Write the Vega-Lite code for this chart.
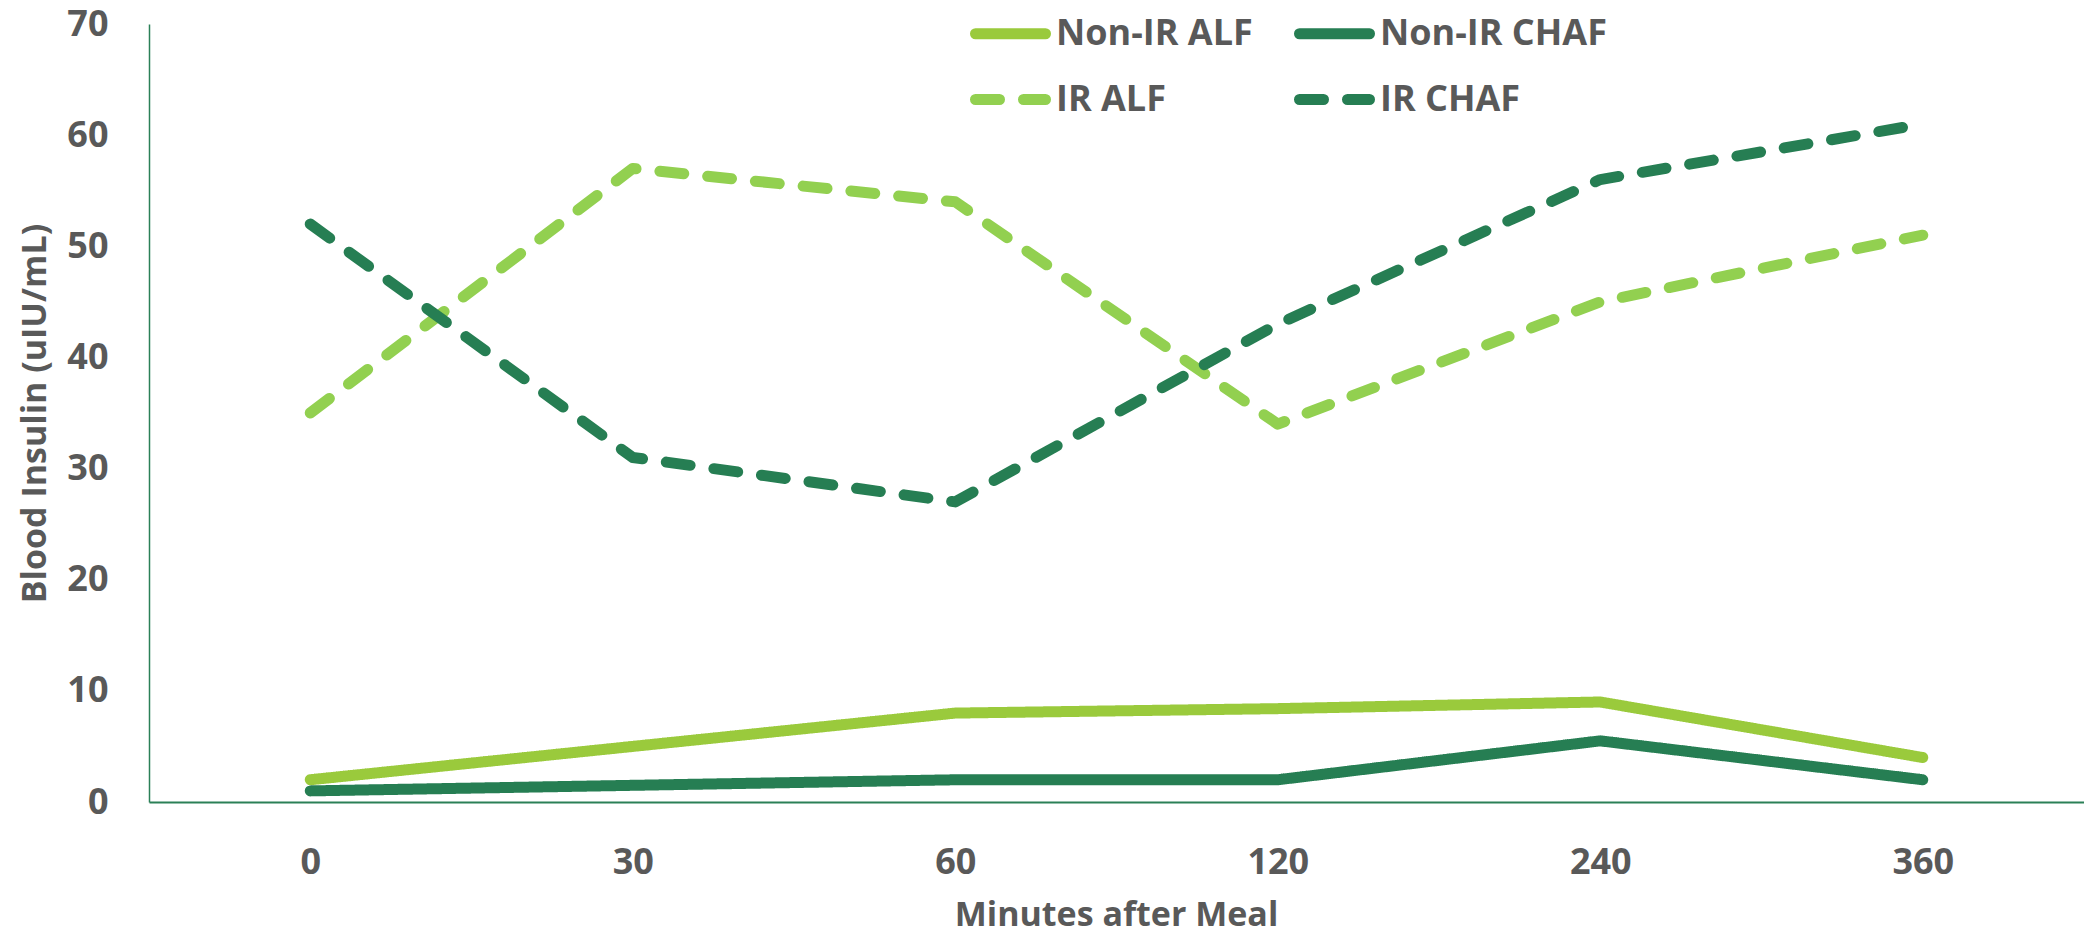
{
  "$schema": "https://vega.github.io/schema/vega-lite/v6.json",
  "autosize": {"type": "none"},
  "padding": {"left": 149, "top": 24, "right": 0, "bottom": 134},
  "width": 1935,
  "height": 778,
  "background": "white",
  "config": {
    "view": {"stroke": null},
    "font": "Open Sans"
  },
  "data": {
    "values": [
      {"series": "Non-IR ALF", "minutes": 0, "insulin": 2},
      {"series": "Non-IR ALF", "minutes": 30, "insulin": 5},
      {"series": "Non-IR ALF", "minutes": 60, "insulin": 8},
      {"series": "Non-IR ALF", "minutes": 120, "insulin": 8.4},
      {"series": "Non-IR ALF", "minutes": 240, "insulin": 9},
      {"series": "Non-IR ALF", "minutes": 360, "insulin": 4},
      {"series": "Non-IR CHAF", "minutes": 0, "insulin": 1},
      {"series": "Non-IR CHAF", "minutes": 30, "insulin": 1.5},
      {"series": "Non-IR CHAF", "minutes": 60, "insulin": 2},
      {"series": "Non-IR CHAF", "minutes": 120, "insulin": 2},
      {"series": "Non-IR CHAF", "minutes": 240, "insulin": 5.5},
      {"series": "Non-IR CHAF", "minutes": 360, "insulin": 2},
      {"series": "IR ALF", "minutes": 0, "insulin": 35},
      {"series": "IR ALF", "minutes": 30, "insulin": 57},
      {"series": "IR ALF", "minutes": 60, "insulin": 54},
      {"series": "IR ALF", "minutes": 120, "insulin": 34},
      {"series": "IR ALF", "minutes": 240, "insulin": 45},
      {"series": "IR ALF", "minutes": 360, "insulin": 51},
      {"series": "IR CHAF", "minutes": 0, "insulin": 52},
      {"series": "IR CHAF", "minutes": 30, "insulin": 31},
      {"series": "IR CHAF", "minutes": 60, "insulin": 27},
      {"series": "IR CHAF", "minutes": 120, "insulin": 43},
      {"series": "IR CHAF", "minutes": 240, "insulin": 56},
      {"series": "IR CHAF", "minutes": 360, "insulin": 61}
    ]
  },
  "mark": {"type": "line", "strokeWidth": 11, "strokeCap": "round", "strokeJoin": "round"},
  "encoding": {
    "x": {
      "field": "minutes",
      "type": "ordinal",
      "scale": {"type": "point", "padding": 0.5},
      "axis": {
        "title": "Minutes after Meal",
        "labelAngle": 0,
        "ticks": false,
        "tickSize": 0,
        "grid": false,
        "domainColor": "#2B8057",
        "domainWidth": 2,
        "labelFont": "Open Sans",
        "labelFontWeight": "bold",
        "labelFontSize": 36,
        "labelColor": "#595959",
        "labelBaseline": "alphabetic",
        "labelPadding": 71,
        "titleFont": "Open Sans",
        "titleFontWeight": "bold",
        "titleFontSize": 34,
        "titleColor": "#595959",
        "titleBaseline": "alphabetic",
        "titleX": 967,
        "titleY": 123,
        "titleAlign": "center"
      }
    },
    "y": {
      "field": "insulin",
      "type": "quantitative",
      "scale": {"domain": [0, 70], "nice": false},
      "axis": {
        "title": "Blood Insulin (uIU/mL)",
        "values": [0, 10, 20, 30, 40, 50, 60, 70],
        "ticks": false,
        "tickSize": 0,
        "grid": false,
        "domainColor": "#2B8057",
        "domainWidth": 1.5,
        "labelFont": "Open Sans",
        "labelFontWeight": "bold",
        "labelFontSize": 36,
        "labelColor": "#595959",
        "labelPadding": 41,
        "titleFont": "Open Sans",
        "titleFontWeight": "bold",
        "titleFontSize": 34,
        "titleColor": "#595959",
        "titleAngle": -90,
        "titleX": -114,
        "titleY": 389,
        "titleAlign": "center",
        "titleBaseline": "middle"
      }
    },
    "color": {
      "field": "series",
      "type": "nominal",
      "scale": {
        "domain": ["Non-IR ALF", "IR ALF", "Non-IR CHAF", "IR CHAF"],
        "range": ["#9ACA3C", "#92D050", "#267E53", "#267E53"]
      },
      "legend": {
        "title": null,
        "orient": "none",
        "legendX": 821,
        "legendY": -31,
        "columns": 2,
        "columnPadding": 24,
        "rowPadding": 3,
        "symbolType": "stroke",
        "symbolSize": 4900,
        "symbolStrokeWidth": 11,
        "labelFont": "Open Sans",
        "labelFontWeight": "bold",
        "labelFontSize": 36,
        "labelColor": "#595959",
        "labelOffset": 5,
        "labelLimit": 400,
        "encode": {"symbols": {"update": {"strokeCap": {"value": "round"}}}}
      }
    },
    "strokeDash": {
      "field": "series",
      "type": "nominal",
      "scale": {
        "domain": ["Non-IR ALF", "IR ALF", "Non-IR CHAF", "IR CHAF"],
        "range": [[1, 0], [24, 24], [1, 0], [24, 24]]
      },
      "legend": null
    }
  }
}
